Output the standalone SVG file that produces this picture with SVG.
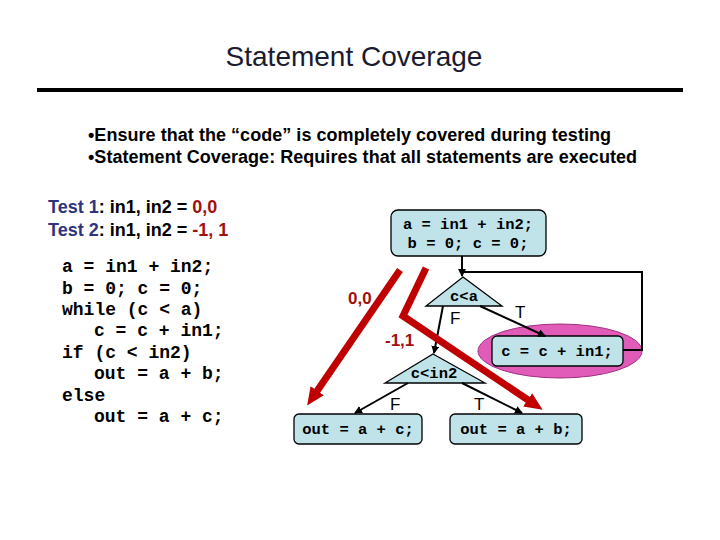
<svg xmlns="http://www.w3.org/2000/svg" width="720" height="540" viewBox="0 0 720 540">
<style>
.t{font-family:"Liberation Sans",Arial,sans-serif}
.b{font-family:"Liberation Sans",Arial,sans-serif;font-weight:bold}
.m{font-family:"Liberation Mono","Courier New",monospace;font-weight:bold;font-size:15.5px}
.n{fill:#bfe3e9;stroke:#000;stroke-width:1.3}
.e{stroke:#000;stroke-width:2;fill:none}
.r{stroke:#c00000;stroke-width:7;fill:none}
</style>
<defs>
<marker id="a" markerWidth="8" markerHeight="8" refX="7" refY="4" orient="auto" markerUnits="userSpaceOnUse"><path d="M0,0L8,4L0,8z" fill="#000"/></marker>
<marker id="ra" markerWidth="18" markerHeight="18" refX="4" refY="9" orient="auto" markerUnits="userSpaceOnUse"><path d="M0,1L18,9L0,17z" fill="#c00000"/></marker>
</defs>
<rect width="720" height="540" fill="#fff"/>
<text class="t" x="354" y="66" font-size="28" text-anchor="middle" fill="#1a1a30">Statement Coverage</text>
<line x1="37" y1="90" x2="683" y2="90" stroke="#000" stroke-width="4"/>
<text class="b" x="88" y="141" font-size="18" textLength="523">•Ensure that the “code” is completely covered during testing</text>
<text class="b" x="88" y="163" font-size="18" textLength="549">•Statement Coverage: Requires that all statements are executed</text>
<text class="b" x="48" y="213" font-size="18"><tspan fill="#2e3480">Test 1</tspan>: in1, in2 = <tspan fill="#a01010">0,0</tspan></text>
<text class="b" x="48" y="236" font-size="18"><tspan fill="#2e3480">Test 2</tspan>: in1, in2 = <tspan fill="#a01010">-1, 1</tspan></text>
<g class="m" style="font-size:18px">
<text x="62" y="272">a = in1 + in2;</text>
<text x="62" y="294">b = 0; c = 0;</text>
<text x="62" y="315">while (c &lt; a)</text>
<text x="94" y="336">c = c + in1;</text>
<text x="62" y="358">if (c &lt; in2)</text>
<text x="94" y="379">out = a + b;</text>
<text x="62" y="401">else</text>
<text x="94" y="422">out = a + c;</text>
</g>
<ellipse cx="560" cy="351" rx="82" ry="27" fill="#e05cb8" stroke="#a03080"/>
<g id="n1"><rect class="n" x="391" y="210" width="155" height="46" rx="7"/><text class="m" x="468" y="229" text-anchor="middle">a = in1 + in2;</text><text class="m" x="468" y="248" text-anchor="middle">b = 0; c = 0;</text></g>
<g id="n2"><polygon class="n" points="463,277 502,306 426,306" stroke-width="0.6"/><text class="m" x="464" y="301" text-anchor="middle">c&lt;a</text></g>
<g id="n3"><rect class="n" x="492" y="336" width="131" height="30" rx="5"/><text class="m" x="557" y="356" text-anchor="middle">c = c + in1;</text></g>
<g id="n4"><polygon class="n" points="433,354 485,383 385,383" stroke-width="0.6"/><text class="m" x="434" y="378" text-anchor="middle">c&lt;in2</text></g>
<g id="n5"><rect class="n" x="294" y="414" width="128" height="30" rx="5"/><text class="m" x="358" y="434" text-anchor="middle">out = a + c;</text></g>
<g id="n6"><rect class="n" x="450" y="414" width="132" height="30" rx="5"/><text class="m" x="516" y="434" text-anchor="middle">out = a + b;</text></g>
<g id="connectors">
<path class="e" d="M462,256V276" marker-end="url(#a)"/>
<path class="e" d="M623,350H642V272H462"/>
<path class="e" d="M443,306L434,353" marker-end="url(#a)"/>
<path class="e" d="M480,306L545,336" marker-end="url(#a)"/>
<path class="e" d="M408,383L355,413" marker-end="url(#a)"/>
<path class="e" d="M462,383L522,413" marker-end="url(#a)"/>
<path class="r" d="M400,270L315,394" marker-end="url(#ra)"/>
<path class="r" d="M426,268L403,316L531,402" marker-end="url(#ra)"/>
</g>
<text class="b" x="348" y="304" font-size="17" fill="#a01010">0,0</text>
<text class="b" x="385" y="346" font-size="17" fill="#a01010">-1,1</text>
<text class="t" x="450" y="324" font-size="17">F</text>
<text class="t" x="515" y="318" font-size="17">T</text>
<text class="t" x="390" y="410" font-size="17">F</text>
<text class="t" x="474" y="410" font-size="17">T</text>
</svg>
